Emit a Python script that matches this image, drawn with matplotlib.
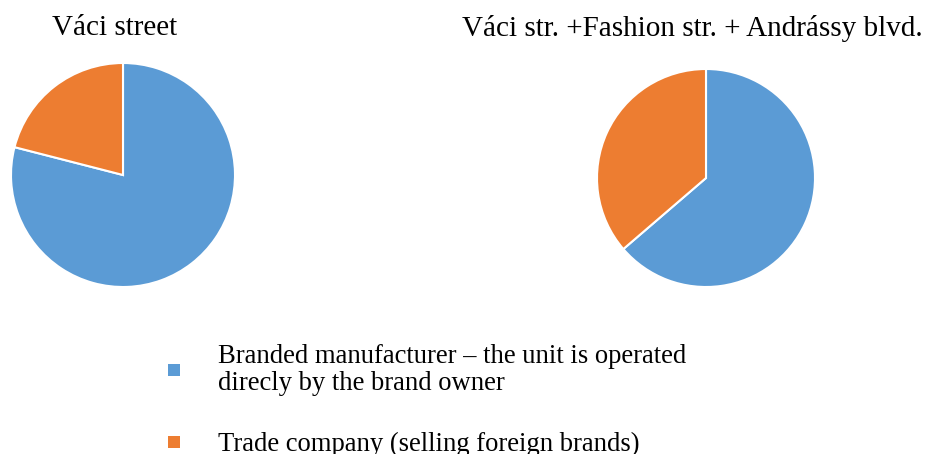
import matplotlib
matplotlib.use("Agg")
import matplotlib.pyplot as plt
from matplotlib.patches import Rectangle

titles = ["Váci street", "Váci str. +Fashion str. + Andrássy blvd."]
categories = ["Branded manufacturer – the unit is operated\ndirecly by the brand owner",
              "Trade company (selling foreign brands)"]
vaci_street = [79, 21]
combined = [63.7, 36.3]
colors = ["#5B9BD5", "#ED7D31"]

W, H = 933, 454
fig = plt.figure(figsize=(W / 100, H / 100), dpi=100)
plt.rcParams['font.family'] = ['Liberation Serif', 'DejaVu Serif']

def px_axes(cx, cy, r):
    return fig.add_axes([(cx - r) / W, (H - cy - r) / H, 2 * r / W, 2 * r / H])

for (cx, cy, r), vals, title, tx in [((123, 175, 112), vaci_street, titles[0], 115),
                                     ((706, 178, 109), combined, titles[1], 692)]:
    ax = px_axes(cx, cy, r)
    ax.pie(vals, colors=colors, startangle=90, counterclock=False,
           wedgeprops=dict(edgecolor="white", linewidth=1.5))
    ax.set_xlim(-1, 1); ax.set_ylim(-1, 1)
    ax.set_aspect('equal')
    ax.axis('off')
    fig.text(tx / W, 1 - 28 / H, title, ha='center', va='center', fontsize=21)

# legend
leg_y = [370, 442]
text_y = [370, 444]
for lab, col, my, ty in zip(categories, colors, leg_y, text_y):
    s = 12
    fig.patches.append(Rectangle(((168) / W, (H - my - s / 2) / H), s / W, s / H,
                                 transform=fig.transFigure, facecolor=col, edgecolor='none'))
    fig.text(218 / W, 1 - ty / H, lab, ha='left', va='center', fontsize=19.2, linespacing=1.12)

fig.savefig("out.png", dpi=100)
